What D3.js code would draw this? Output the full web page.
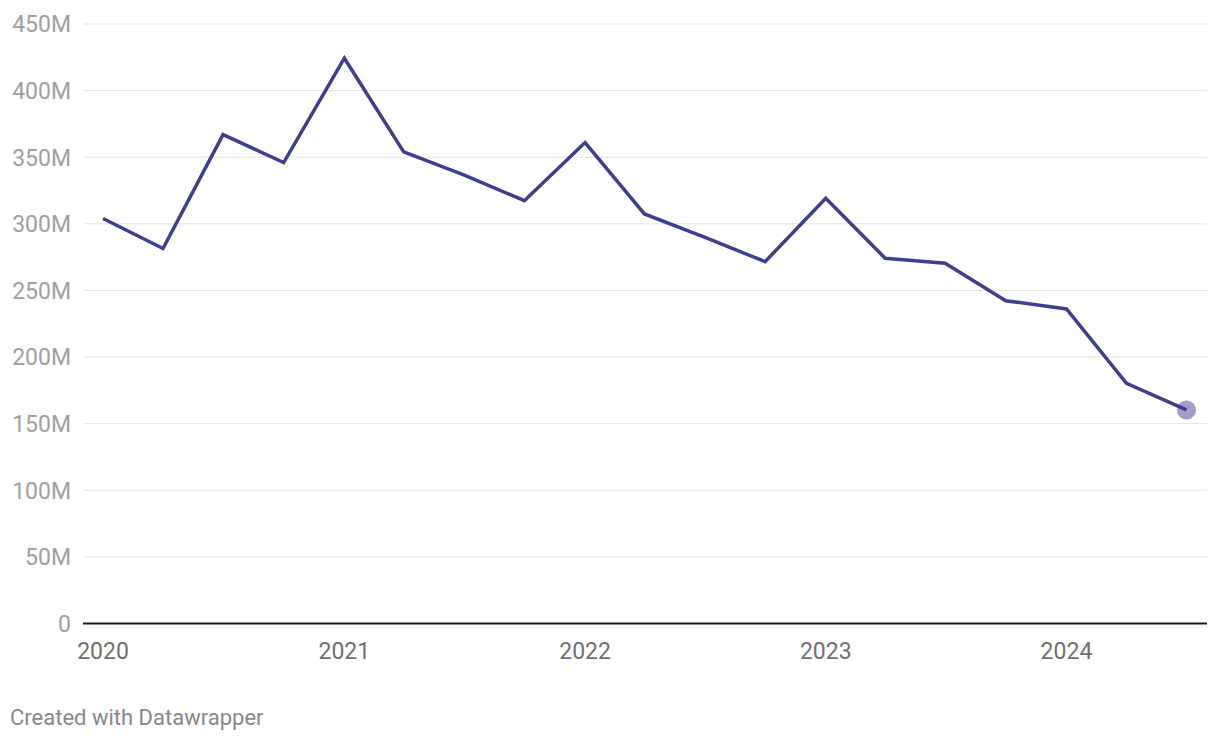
<!DOCTYPE html>
<html>
<head>
<meta charset="utf-8">
<script src="https://cdn.jsdelivr.net/npm/d3@7"></script>
<style>
  html, body { margin: 0; padding: 0; background: #fff; }
  svg { display: block; font-family: Roboto, "Noto Sans", sans-serif; }
</style>
</head>
<body>
<svg id="chart" width="1220" height="740"></svg>
<script>
const dates = ["2020-01-01","2020-04-01","2020-07-01","2020-10-01",
  "2021-01-01","2021-04-01","2021-07-01","2021-10-01",
  "2022-01-01","2022-04-01","2022-07-01","2022-10-01",
  "2023-01-01","2023-04-01","2023-07-01","2023-10-01",
  "2024-01-01","2024-04-01","2024-07-01"];
const values = [304, 281.5, 367, 346, 424.3, 354, 336.7, 317.4, 361, 307.4, 290, 271.6,
  319.2, 274.2, 270.4, 242.3, 236.1, 180.3, 160.3];
const yTicks = [0, 50, 100, 150, 200, 250, 300, 350, 400, 450];
const xTickYears = [2020, 2021, 2022, 2023, 2024];
const footer = "Created with Datawrapper";

const parse = d3.timeParse("%Y-%m-%d");
const data = dates.map((d, i) => ({ date: parse(d), value: values[i] }));

const svg = d3.select("#chart");
const x = d3.scaleTime()
  .domain([parse("2020-01-01"), parse("2024-07-01")])
  .range([103, 1186.5]);
const y = d3.scaleLinear().domain([0, 450]).range([623.5, 24]);

const gridLeft = 84, gridRight = 1207;

// gridlines
svg.append("g").selectAll("line")
  .data(yTicks.filter(d => d !== 0))
  .join("line")
  .attr("x1", gridLeft).attr("x2", gridRight)
  .attr("y1", d => y(d)).attr("y2", d => y(d))
  .attr("stroke", "#e3e3e3").attr("stroke-width", 1);

// y labels
svg.append("g").selectAll("text")
  .data(yTicks)
  .join("text")
  .attr("x", 71)
  .attr("y", d => y(d))
  .attr("dy", "0.36em")
  .attr("text-anchor", "end")
  .attr("font-size", 23)
  .attr("fill", "#a0a0a0")
  .text(d => d === 0 ? "0" : d + "M");

// baseline axis
svg.append("line")
  .attr("x1", gridLeft - 1).attr("x2", gridRight)
  .attr("y1", y(0)).attr("y2", y(0))
  .attr("stroke", "#1a1a1a").attr("stroke-width", 2);

// x labels
svg.append("g").selectAll("text")
  .data(xTickYears)
  .join("text")
  .attr("x", d => x(new Date(d, 0, 1)))
  .attr("y", 658.5)
  .attr("text-anchor", "middle")
  .attr("font-size", 23)
  .attr("fill", "#707070")
  .text(d => d);

// line
const line = d3.line().x(d => x(d.date)).y(d => y(d.value));
svg.append("path")
  .datum(data)
  .attr("d", line)
  .attr("fill", "none")
  .attr("stroke", "#3f3f8f")
  .attr("stroke-width", 3.5)
  .attr("stroke-linejoin", "miter");

// end dot
const last = data[data.length - 1];
svg.append("circle")
  .attr("cx", x(last.date)).attr("cy", y(last.value))
  .attr("r", 9.5)
  .attr("fill", "#3f3f8f")
  .attr("fill-opacity", 0.5);

// footer
svg.append("text")
  .attr("x", 10).attr("y", 725)
  .attr("font-size", 22)
  .attr("fill", "#888")
  .text(footer);
</script>
</body>
</html>
